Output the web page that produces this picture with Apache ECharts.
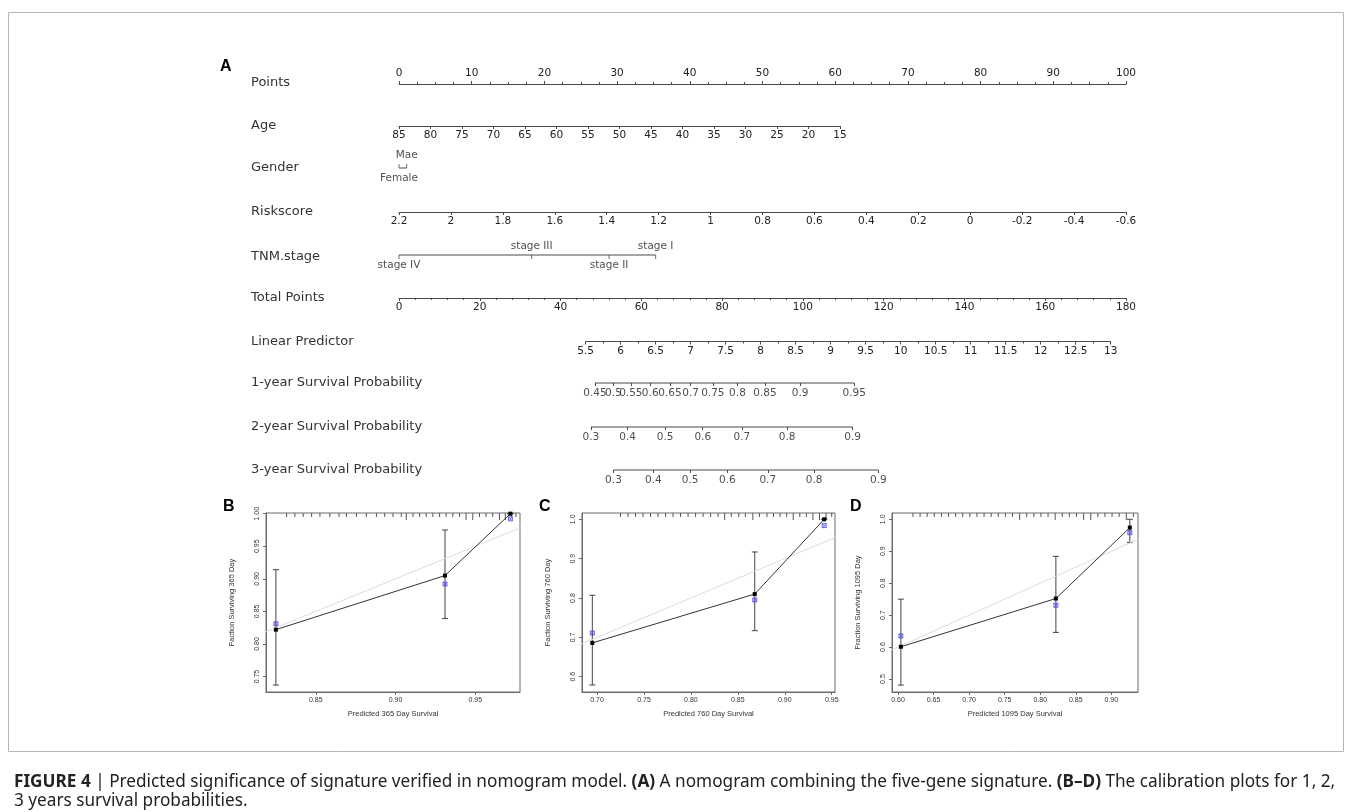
<!DOCTYPE html>
<html><head><meta charset="utf-8">
<script src="https://cdn.jsdelivr.net/npm/echarts@6/dist/echarts.min.js"></script>
<style>html,body{margin:0;padding:0;background:#fff}#c{width:1354px;height:812px}</style>
</head><body><div id="c"></div><script>
// ---------------- data ----------------
const rowNames = ['Points','Age','Gender','Riskscore','TNM.stage','Total Points','Linear Predictor',
  '1-year Survival Probability','2-year Survival Probability','3-year Survival Probability'];
const pointsTicks = [0,10,20,30,40,50,60,70,80,90,100];
const ageTicks = [85,80,75,70,65,60,55,50,45,40,35,30,25,20,15];
const genderLevels = ['Female','Mae'];
const genderPoints = [0, 1.06];
const riskTicks = [2.2,2,1.8,1.6,1.4,1.2,1,0.8,0.6,0.4,0.2,0,-0.2,-0.4,-0.6];
const tnmLevels = ['stage IV','stage III','stage II','stage I'];
const tnmPoints = [0, 18.25, 28.9, 35.3];
const totalTicks = [0,20,40,60,80,100,120,140,160,180];
const lpTicks = [5.5,6,6.5,7,7.5,8,8.5,9,9.5,10,10.5,11,11.5,12,12.5,13];
const surv1Labels = ['0.45','0.5','0.55','0.6','0.65','0.7','0.75','0.8','0.85','0.9','0.95'];
const surv1Total = [48.5,53.1,57.4,62.2,67.1,72.2,77.7,83.8,90.6,99.3,112.7];
const surv2Labels = ['0.3','0.4','0.5','0.6','0.7','0.8','0.9'];
const surv2Total = [47.5,56.6,65.9,75.2,84.9,96.1,112.3];
const surv3Labels = ['0.3','0.4','0.5','0.6','0.7','0.8','0.9'];
const surv3Total = [53.1,63.0,72.1,81.3,91.3,102.8,118.7];

// calibration B (365 day)
const predB = [0.825, 0.931, 0.972];
const obsB  = [0.822, 0.905, 1.000];
const corrB = [0.831, 0.892, 0.992];
const loB   = [0.737, 0.839, 1.000];
const hiB   = [0.914, 0.975, 1.000];
const xTicksB = [0.85, 0.90, 0.95];
const yTicksB = [0.75, 0.80, 0.85, 0.90, 0.95, 1.00];
const xRangeB = [0.8188, 0.978];
const yRangeB = [0.7263, 1.001];
const rugB = [[0.8317,1],[0.8369,1],[0.8421,1],[0.8474,1],[0.8526,1],[0.8588,1],[0.8646,1],[0.8692,1],
  [0.8755,1],[0.8817,1],[0.8880,1],[0.8932,1],[0.8984,1],[0.9036,1],[0.9067,2],[0.9109,1],[0.9151,1],
  [0.9192,1],[0.9234,1],[0.9276,1],[0.9317,1],[0.9359,1],[0.9401,1],[0.9442,2],[0.9484,2],[0.9526,1],
  [0.9567,1],[0.9609,1],[0.9651,2],[0.9688,2],[0.9724,1],[0.9755,1]];

// calibration C (760 day)
const predC = [0.695, 0.868, 0.942];
const obsC  = [0.686, 0.810, 1.000];
const corrC = [0.711, 0.795, 0.984];
const loC   = [0.579, 0.717, 1.000];
const hiC   = [0.807, 0.917, 1.000];
const xTicksC = [0.70, 0.75, 0.80, 0.85, 0.90, 0.95];
const yTicksC = [0.6, 0.7, 0.8, 0.9, 1.0];
const xRangeC = [0.684, 0.9535];
const yRangeC = [0.5612, 1.016];
const rugC = [[0.725,1],[0.733,1],[0.741,1],[0.749,1],[0.757,1],[0.765,1],[0.773,1],[0.781,1],[0.789,1],
  [0.797,1],[0.805,1],[0.813,1],[0.821,1],[0.829,1],[0.836,2],[0.843,1],[0.851,1],[0.858,1],[0.866,2],
  [0.873,1],[0.881,1],[0.888,1],[0.895,1],[0.902,1],[0.909,2],[0.916,1],[0.923,1],[0.930,2],[0.937,2],
  [0.944,2],[0.950,1]];

// calibration D (1095 day)
const predD = [0.604, 0.822, 0.926];
const obsD  = [0.601, 0.752, 0.974];
const corrD = [0.635, 0.731, 0.958];
const loD   = [0.481, 0.646, 0.927];
const hiD   = [0.750, 0.884, 1.000];
const xTicksD = [0.60, 0.65, 0.70, 0.75, 0.80, 0.85, 0.90];
const yTicksD = [0.5, 0.6, 0.7, 0.8, 0.9, 1.0];
const xRangeD = [0.5915, 0.9375];
const yRangeD = [0.4594, 1.0197];
const rugD = [[0.621,1],[0.631,1],[0.641,1],[0.651,1],[0.661,1],[0.671,1],[0.681,1],[0.691,1],[0.701,1],
  [0.711,1],[0.721,1],[0.731,1],[0.741,1],[0.751,1],[0.761,1],[0.771,2],[0.781,1],[0.791,1],[0.801,1],
  [0.811,1],[0.821,2],[0.831,1],[0.841,1],[0.851,1],[0.861,2],[0.871,2],[0.881,1],[0.891,1],[0.901,1],
  [0.911,1],[0.921,2],[0.931,1]];

// ---------------- layout / style ----------------
const NF = 'DejaVu Sans';
const SF = '"Liberation Sans",Arial,sans-serif';
const TF = 10.5;
const axisColor = '#4a4a4a';
const X0 = 399, W = 727;
const rowY = [83, 126, 168, 212, 255, 298, 341.5, 383, 427, 470];

const grids = [], xAxes = [], yAxes = [], series = [];
function addNomoGrid(left, width, y, topPos) {
  grids.push({left: left, width: width, top: topPos ? y : y - 1, height: 1});
  const gi = grids.length - 1;
  yAxes.push({gridIndex: gi, type: 'value', min: 0, max: 1, show: false});
  return gi;
}
function step(arr) { return Math.round(Math.abs(arr[1] - arr[0]) * 1000) / 1000; }
function baseX(gi, extra) {
  return Object.assign({
    gridIndex: gi, type: 'value', splitLine: {show: false},
    axisLine: {show: true, lineStyle: {color: axisColor, width: 1}},
    axisTick: {show: true, length: 3, lineStyle: {color: axisColor, width: 1}},
    axisLabel: {margin: 4, fontSize: TF, color: '#222', fontFamily: NF, hideOverlap: false, showMinLabel: true, showMaxLabel: true},
  }, extra);
}
// Points
let g = addNomoGrid(X0, W, rowY[0], true);
xAxes.push(baseX(g, {position: 'top', min: pointsTicks[0], max: pointsTicks[pointsTicks.length-1], interval: step(pointsTicks),
  minorTick: {show: true, splitNumber: 4, length: 2, lineStyle: {color: axisColor}}}));
// Age (covers 85..15)
g = addNomoGrid(X0, 441, rowY[1]);
xAxes.push(baseX(g, {min: Math.min(...ageTicks), max: Math.max(...ageTicks), interval: step(ageTicks), inverse: true}));
// Gender (points scale)
g = addNomoGrid(X0, W, rowY[2]);
xAxes.push({gridIndex: g, type: 'value', min: 0, max: 100, show: false});
series.push({type: 'line', xAxisIndex: g, yAxisIndex: g, clip: false, symbol: 'none', silent: true,
  lineStyle: {color: axisColor, width: 1}, data: genderPoints.map(p => [p, 0])});
series.push({type: 'scatter', xAxisIndex: g, yAxisIndex: g, clip: false, symbol: 'rect', symbolSize: [1, 4], symbolOffset: [0, -2],
  itemStyle: {color: axisColor}, silent: true,
  data: genderPoints.map((p, i) => ({value: [p, 0], label: {show: true, formatter: genderLevels[i],
    position: i === 0 ? 'bottom' : 'top', distance: i === 0 ? 5 : 3, fontSize: TF, color: '#222', fontFamily: NF}}))});
// Riskscore
g = addNomoGrid(X0, W, rowY[3]);
xAxes.push(baseX(g, {min: Math.min(...riskTicks), max: Math.max(...riskTicks), interval: step(riskTicks), inverse: true}));
// TNM stage
g = addNomoGrid(X0, W, rowY[4]);
xAxes.push({gridIndex: g, type: 'value', min: 0, max: 100, show: false});
series.push({type: 'line', xAxisIndex: g, yAxisIndex: g, clip: false, symbol: 'none', silent: true,
  lineStyle: {color: axisColor, width: 1}, data: [[Math.min(...tnmPoints), 0], [Math.max(...tnmPoints), 0]]});
series.push({type: 'scatter', xAxisIndex: g, yAxisIndex: g, clip: false, symbol: 'rect', symbolSize: [1, 4], symbolOffset: [0, 2],
  itemStyle: {color: axisColor}, silent: true,
  data: tnmPoints.map((p, i) => ({value: [p, 0], label: {show: true, formatter: tnmLevels[i],
    position: i % 2 === 0 ? 'bottom' : 'top', distance: i % 2 === 0 ? 1 : 3, fontSize: TF, color: '#222', fontFamily: NF}}))});
// Total points
g = addNomoGrid(X0, W, rowY[5]);
xAxes.push(baseX(g, {min: totalTicks[0], max: totalTicks[totalTicks.length-1], interval: step(totalTicks),
  minorTick: {show: true, splitNumber: 5, length: 2, lineStyle: {color: axisColor}}}));
// Linear predictor
g = addNomoGrid(585.7, 525, rowY[6]);
xAxes.push(baseX(g, {min: lpTicks[0], max: lpTicks[lpTicks.length-1], interval: step(lpTicks),
  minorTick: {show: true, splitNumber: 2, length: 2, lineStyle: {color: axisColor}}}));
// survival axes (on total points scale, custom ticks); line drawn between first and last tick
[[surv1Total, surv1Labels], [surv2Total, surv2Labels], [surv3Total, surv3Labels]].forEach((s, k) => {
  const gi = addNomoGrid(X0, W, rowY[7 + k]);
  const tv = s[0], lb = s[1];
  xAxes.push(baseX(gi, {min: totalTicks[0], max: totalTicks[totalTicks.length-1],
    axisLine: {show: false},
    axisTick: {show: true, length: 3, customValues: tv, lineStyle: {color: axisColor, width: 1}},
    axisLabel: {show: false}}));
  series.push({type: 'line', xAxisIndex: gi, yAxisIndex: gi, clip: false, symbol: 'none', silent: true,
    lineStyle: {color: axisColor, width: 1}, data: [[tv[0], 0], [tv[tv.length - 1], 0]]});
  // tick labels placed at each tick value
  series.push({type: 'scatter', xAxisIndex: gi, yAxisIndex: gi, clip: false, symbol: 'rect', symbolSize: 1, silent: true,
    itemStyle: {color: 'rgba(0,0,0,0)'},
    data: tv.map((t, i) => ({value: [t, 0], label: {show: true, formatter: lb[i], position: 'bottom', distance: 4,
      fontSize: TF, color: '#222', fontFamily: NF}})),
    labelLayout: {hideOverlap: false}});
});

// ---------------- calibration panels ----------------
const panels = [
  {left: 266, width: 254, pred: predB, obs: obsB, corr: corrB, lo: loB, hi: hiB, xt: xTicksB, yt: yTicksB,
   xr: xRangeB, yr: yRangeB, rug: rugB, xname: 'Predicted 365 Day Survival', yname: 'Faction Surviving 365 Day'},
  {left: 582, width: 253, pred: predC, obs: obsC, corr: corrC, lo: loC, hi: hiC, xt: xTicksC, yt: yTicksC,
   xr: xRangeC, yr: yRangeC, rug: rugC, xname: 'Predicted 760 Day Survival', yname: 'Faction Surviving 760 Day'},
  {left: 892, width: 246, pred: predD, obs: obsD, corr: corrD, lo: loD, hi: hiD, xt: xTicksD, yt: yTicksD,
   xr: xRangeD, yr: yRangeD, rug: rugD, xname: 'Predicted 1095 Day Survival', yname: 'Fraction Surviving 1095 Day'}
];
const calColor = '#333';
panels.forEach(p => {
  grids.push({left: p.left, width: p.width, top: 513, height: 179, show: true, borderColor: '#6a6a6a', borderWidth: 1});
  const gi = grids.length - 1;
  const fmt2 = v => v.toFixed(2);
  xAxes.push({gridIndex: gi, type: 'value', min: p.xr[0], max: p.xr[1], splitLine: {show: false},
    axisLine: {show: true, onZero: false, lineStyle: {color: '#6a6a6a'}},
    axisTick: {show: true, length: 3, customValues: p.xt, lineStyle: {color: '#6a6a6a'}},
    axisLabel: {customValues: p.xt, formatter: fmt2, margin: 5, fontSize: 7, color: '#333', fontFamily: SF, hideOverlap: false},
    name: p.xname, nameLocation: 'middle', nameGap: 18, nameTextStyle: {fontSize: 7.5, color: '#333', fontFamily: SF}});
  const yfmt = p.yt[0] === 0.75 ? fmt2 : (v => v.toFixed(1));
  yAxes.push({gridIndex: gi, type: 'value', min: p.yr[0], max: p.yr[1], splitLine: {show: false},
    axisLine: {show: true, onZero: false, lineStyle: {color: '#6a6a6a'}},
    axisTick: {show: true, length: 3, customValues: p.yt, lineStyle: {color: '#6a6a6a'}},
    axisLabel: {customValues: p.yt, formatter: yfmt, rotate: 90, margin: 5, fontSize: 7, color: '#333', fontFamily: SF, hideOverlap: false},
    name: p.yname, nameLocation: 'middle', nameRotate: 90, nameGap: 30, nameTextStyle: {fontSize: 7.5, color: '#333', fontFamily: SF}});
  // ideal line
  series.push({type: 'line', xAxisIndex: gi, yAxisIndex: gi, symbol: 'none', silent: true,
    lineStyle: {color: '#dcdcdc', width: 1}, data: [[0, 0], [1.2, 1.2]]});
  // rug of predictions
  series.push({type: 'custom', xAxisIndex: gi, yAxisIndex: gi, silent: true, data: p.rug,
    renderItem: (params, api) => {
      const c = api.coord([api.value(0), p.yr[1]]);
      const h = api.value(1) * 3 + 1;
      return {type: 'line', shape: {x1: c[0], y1: c[1], x2: c[0], y2: c[1] + h}, style: {stroke: '#555', lineWidth: 1}};
    }});
  // error bars
  series.push({type: 'custom', xAxisIndex: gi, yAxisIndex: gi, silent: true,
    data: p.pred.map((x, i) => [x, p.lo[i], p.hi[i]]),
    renderItem: (params, api) => {
      const a = api.coord([api.value(0), api.value(2)]);
      const b = api.coord([api.value(0), api.value(1)]);
      const w = 3, st = {stroke: '#444', lineWidth: 1};
      return {type: 'group', children: [
        {type: 'line', shape: {x1: a[0], y1: a[1], x2: b[0], y2: b[1]}, style: st},
        {type: 'line', shape: {x1: a[0] - w, y1: a[1], x2: a[0] + w, y2: a[1]}, style: st},
        {type: 'line', shape: {x1: b[0] - w, y1: b[1], x2: b[0] + w, y2: b[1]}, style: st}]};
    }});
  // observed line
  series.push({type: 'line', xAxisIndex: gi, yAxisIndex: gi, silent: true, symbol: 'rect', symbolSize: 4,
    itemStyle: {color: '#000'}, lineStyle: {color: calColor, width: 1},
    data: p.pred.map((x, i) => [x, p.obs[i]])});
  // bias corrected
  series.push({type: 'scatter', xAxisIndex: gi, yAxisIndex: gi, silent: true,
    symbol: 'path://M0 0L10 10M10 0L0 10M0 0L10 0L10 10L0 10Z', symbolSize: 4,
    itemStyle: {color: 'rgba(0,0,0,0)', borderColor: '#4a4ae8', borderWidth: 1},
    data: p.pred.map((x, i) => [x, p.corr[i]])});
});

// ---------------- graphic texts ----------------
const CF = '"Noto Sans","Liberation Sans",Arial';
const CS = '17.2px ';
const graphic = [
  {type: 'rect', shape: {x: 8.5, y: 12.5, width: 1335, height: 739}, style: {fill: 'none', stroke: '#b5b5b5', lineWidth: 1}, silent: true},
  {type: 'text', left: 220, top: 59, style: {text: 'A', font: 'bold 16px "Liberation Sans",Arial', fill: '#000'}},
  {type: 'text', left: 223, top: 499, style: {text: 'B', font: 'bold 16px "Liberation Sans",Arial', fill: '#000'}},
  {type: 'text', left: 539, top: 499, style: {text: 'C', font: 'bold 16px "Liberation Sans",Arial', fill: '#000'}},
  {type: 'text', left: 850, top: 499, style: {text: 'D', font: 'bold 16px "Liberation Sans",Arial', fill: '#000'}},
  {type: 'text', x: 14, y: 782, style: {
    text: '{b|FIGURE 4} | Predicted significance of signature verified in nomogram model. {b|(A)} A nomogram combining the five-gene signature. {b|(B–D)} The calibration plots for 1, 2,',
    font: CS + CF, fill: '#222', verticalAlign: 'middle',
    rich: {b: {font: 'bold ' + CS + CF, fill: '#222'}}}},
  {type: 'text', x: 14, y: 801, style: {text: '3 years survival probabilities.', font: CS + CF, fill: '#222', verticalAlign: 'middle'}}
];
rowNames.forEach((n, i) => {
  graphic.push({type: 'text', x: 251, y: rowY[i] + (i === 4 ? 2 : 0), style: {text: n, font: '13px "DejaVu Sans"', fill: '#333', verticalAlign: 'middle'}});
});

const chart = echarts.init(document.getElementById('c'), null, {renderer: 'canvas'});
chart.setOption({animation: false, grid: grids, xAxis: xAxes, yAxis: yAxes, series: series, graphic: graphic});
</script></body></html>
